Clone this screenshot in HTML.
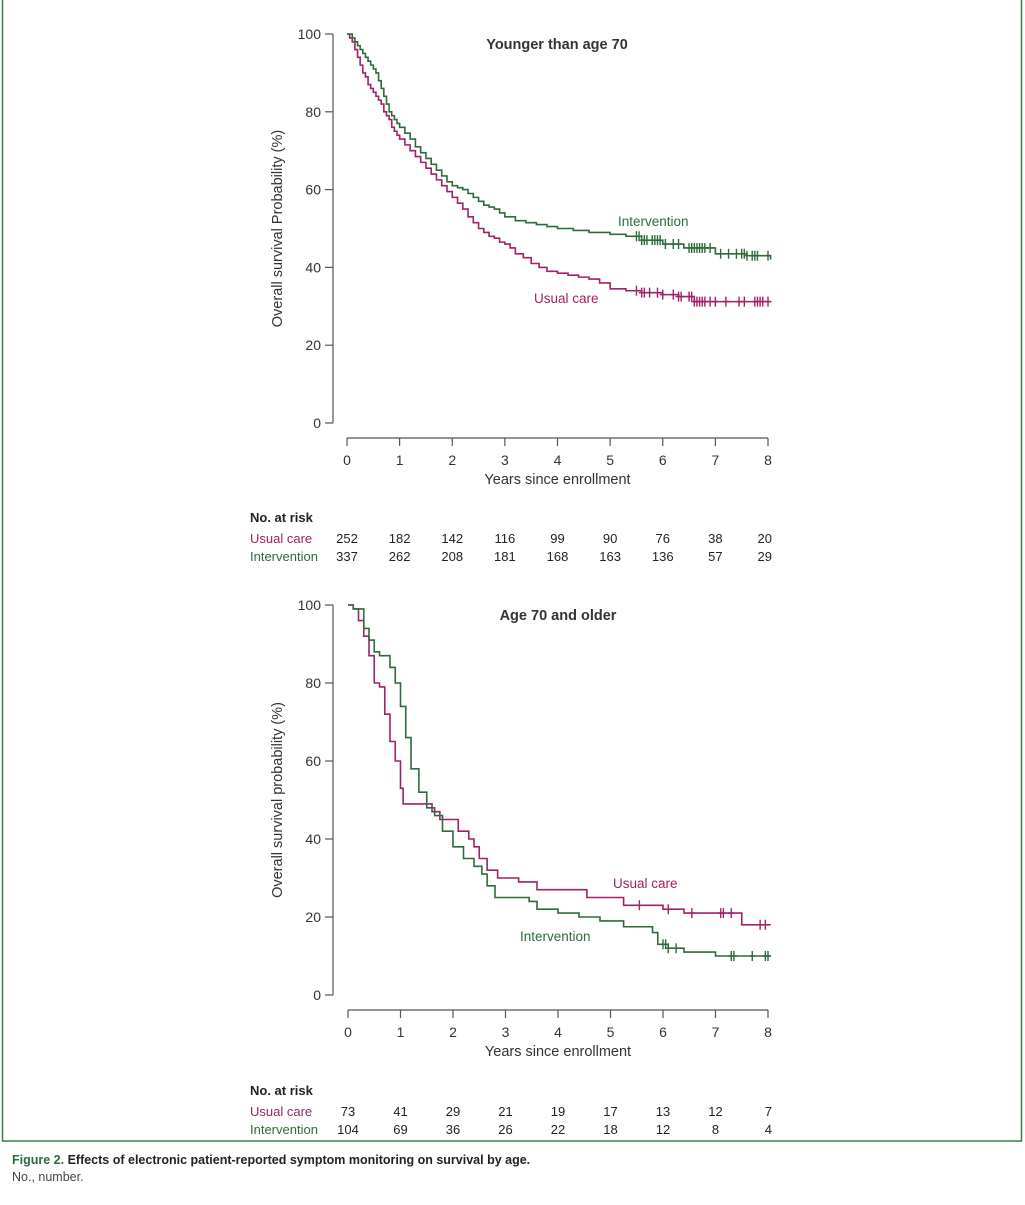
<!DOCTYPE html>
<html><head><meta charset="utf-8"><style>
body{margin:0;background:#fff;font-family:"Liberation Sans",Arial,sans-serif}
</style></head><body>
<svg id="fig" width="1025" height="1200" xmlns="http://www.w3.org/2000/svg" font-family="Liberation Sans, Arial, sans-serif">
<rect x="2.5" y="-1" width="1019" height="1142" fill="none" stroke="#3c7a4a" stroke-width="1.5"/>
<text x="12" y="1164" font-size="12.5" font-weight="bold" fill="#222"><tspan fill="#2e6b3a">Figure 2.</tspan> Effects of electronic patient-reported symptom monitoring on survival by age.</text>
<text x="12" y="1181" font-size="12.5" fill="#444">No., number.</text>
<g id="top"></g><g id="bot"></g>
</svg>
<script>
const yearTicks=[0,1,2,3,4,5,6,7,8];
const survTicks=[0,20,40,60,80,100];
// Top panel: younger than 70
const topUsualT=[0,0.05,0.1,0.15,0.2,0.25,0.3,0.35,0.4,0.45,0.5,0.55,0.6,0.65,0.7,0.75,0.8,0.85,0.9,0.95,1.0,1.1,1.2,1.3,1.4,1.5,1.6,1.7,1.8,1.9,2.0,2.1,2.2,2.3,2.4,2.5,2.6,2.7,2.8,2.9,3.0,3.1,3.2,3.35,3.5,3.65,3.8,4.0,4.2,4.4,4.6,4.8,5.0,5.3,5.6,6.0,6.3,6.6,8.05];
const topUsualS=[100,99,98,96,94,92,90,89,87,86,85,84,83,82,80,79,78,76,75,74,73,71.5,70,68.5,67,65.5,64,62.5,61,59.5,58,56.5,55,53,51.5,50,49,48,47.5,46.5,46,45,43.5,42.5,41,40,39,38.5,38,37.5,37,36,34.5,34,33.5,33,32.5,31.2,31];
const topUsualCens=[5.5,5.6,5.65,5.75,5.9,6.0,6.2,6.3,6.35,6.5,6.55,6.6,6.65,6.7,6.75,6.8,6.9,7.0,7.2,7.45,7.55,7.75,7.8,7.85,7.9,8.0];
const topIntT=[0,0.1,0.15,0.2,0.25,0.3,0.35,0.4,0.45,0.5,0.55,0.6,0.65,0.7,0.75,0.8,0.85,0.9,0.95,1.0,1.1,1.2,1.3,1.4,1.5,1.6,1.7,1.8,1.9,2.0,2.1,2.2,2.3,2.4,2.5,2.6,2.7,2.8,2.9,3.0,3.2,3.4,3.6,3.8,4.0,4.3,4.6,5.0,5.3,5.6,6.0,6.4,7.0,7.6,8.05];
const topIntS=[100,99,98,97,96,95,94,93,92,91,90,88,86,84,82,80,79,78,77,76,74.5,73,71,69.5,68,66.5,65,63.5,62,61,60.5,60,59,58,57,56,55.5,55,54,53,52,51.5,51,50.5,50,49.5,49,48.5,48,47,46,45,43.5,43,42];
const topIntCens=[5.5,5.55,5.6,5.65,5.7,5.8,5.85,5.9,5.95,6.05,6.2,6.3,6.5,6.55,6.6,6.65,6.7,6.75,6.8,6.9,7.1,7.25,7.4,7.5,7.55,7.6,7.7,7.75,7.8,8.0];
// Bottom panel: 70 and older
const botUsualT=[0,0.1,0.2,0.3,0.4,0.5,0.6,0.7,0.8,0.9,1.0,1.05,1.5,1.6,1.75,2.0,2.1,2.3,2.4,2.5,2.65,2.85,3.25,3.6,4.55,5.25,6.0,6.4,7.5,8.05];
const botUsualS=[100,99,96,92,87,80,79,72,65,60,53,49,49,47,45,45,42,40,38,35,32,30,29,27,25,23,22,21,18,18];
const botUsualCens=[5.55,6.1,6.55,7.1,7.15,7.3,7.85,7.95];
const botIntT=[0,0.1,0.3,0.4,0.5,0.6,0.8,0.9,1.0,1.1,1.2,1.35,1.5,1.65,1.8,2.0,2.2,2.4,2.55,2.65,2.8,3.45,3.6,4.0,4.4,4.8,5.25,5.8,5.9,6.1,6.4,7.0,8.05];
const botIntS=[100,99,94,91,88,87,84,80,74,66,58,52,48,46,42,38,35,33,31,28,25,24,22,21,20,19,17.5,16,13,12,11,10,10];
const botIntCens=[6.0,6.05,6.1,6.25,7.3,7.35,7.7,7.95,8.0];

const NS="http://www.w3.org/2000/svg";
function mk(parent,tag,attrs,text){const e=document.createElementNS(NS,tag);for(const k in attrs)e.setAttribute(k,attrs[k]);if(text!==undefined)e.textContent=text;parent.appendChild(e);return e;}

function panel(g,o){
  const X=t=>o.x0+t*(o.x8-o.x0)/8, Y=s=>o.y0+(o.y100-o.y0)*s/100;
  const ya=mk(g,'line',{x1:o.yax,x2:o.yax,y1:Y(100),y2:Y(0),stroke:'#555','stroke-width':1.2});
  
  
  survTicks.forEach(v=>{
    mk(g,'line',{x1:o.yax-8,x2:o.yax,y1:Y(v),y2:Y(v),stroke:'#555','stroke-width':1.2});
    const t=mk(g,'text',{x:o.yax-12,y:Y(v)+5,'text-anchor':'end','font-size':14,fill:'#333'},v);
    
    
  });
  const xa=mk(g,'line',{x1:X(0),x2:X(8),y1:o.xay,y2:o.xay,stroke:'#555','stroke-width':1.2});
  
  
  yearTicks.forEach(v=>{
    mk(g,'line',{x1:X(v),x2:X(v),y1:o.xay,y2:o.xay+8,stroke:'#555','stroke-width':1.2});
    const t=mk(g,'text',{x:X(v),y:o.xay+27,'text-anchor':'middle','font-size':14,fill:'#333'},v);
    
    
  });
  const xt=mk(g,'text',{x:(X(0)+X(8))/2,y:o.xay+46,'text-anchor':'middle','font-size':14.5,fill:'#333'},'Years since enrollment');
  
  
  const cy=(Y(0)+Y(100))/2;
  const yt=mk(g,'text',{x:282,y:cy,'text-anchor':'middle','font-size':14.5,fill:'#333',transform:`rotate(-90 282 ${cy})`},o.ytitle);
  
  
  const ti=mk(g,'text',{x:o.titleX,y:Y(100)+15,'text-anchor':'middle','font-size':14.5,'font-weight':'bold',fill:'#333'},o.title);
  
  
  o.series.forEach(s=>{
    let d=`M${X(s.T[0])},${Y(s.S[0])}`;
    for(let i=1;i<s.T.length;i++){d+=`H${X(s.T[i])}V${Y(s.S[i])}`;}
    const p=mk(g,'path',{d:d,fill:'none',stroke:s.c,'stroke-width':1.6});
    
    
    s.cens.forEach(t=>{
      let v=s.S[0];for(let i=0;i<s.T.length;i++){if(s.T[i]<=t)v=s.S[i];}
      const c=mk(g,'path',{d:`M${X(t)},${Y(v)-5}v10M${X(t)-3},${Y(v)}h6`,stroke:s.c,'stroke-width':1.4});
      
      
    });
    const l=mk(g,'text',{x:s.lx,y:s.ly,'font-size':13.5,fill:s.c},s.label);
    
    
  });
  const h=mk(g,'text',{x:250,y:o.ry,'font-size':13,'font-weight':'bold',fill:'#222'},'No. at risk');
  
  
  o.risk.forEach((r,j)=>{
    const yy=o.ry+21+j*18;
    const lab=mk(g,'text',{x:250,y:yy,'font-size':13,fill:r.c},r.label);
    
    
    r.v.forEach((n,i)=>{
      const t=mk(g,'text',{x:X(i)+(i==8?4:0),y:yy,'text-anchor':i==8?'end':'middle','font-size':13,fill:'#222'},n);
      
      
    });
  });
}
const G='#2e6b3a',M='#a0206a';
const topRiskUsual=[252,182,142,116,99,90,76,38,20], topRiskInt=[337,262,208,181,168,163,136,57,29];
const botRiskUsual=[73,41,29,21,19,17,13,12,7], botRiskInt=[104,69,36,26,22,18,12,8,4];
panel(document.getElementById('top'),{x0:347,x8:768,y0:423,y100:34,yax:333,xay:438,titleX:557,title:'Younger than age 70',ytitle:'Overall survival Probability (%)',ry:522,
 series:[{name:'usual-care',T:topUsualT,S:topUsualS,cens:topUsualCens,c:M,label:'Usual care',lx:534,ly:303},
         {name:'intervention',T:topIntT,S:topIntS,cens:topIntCens,c:G,label:'Intervention',lx:618,ly:226}],
 risk:[{label:'Usual care',c:M,v:topRiskUsual},{label:'Intervention',c:G,v:topRiskInt}]});
panel(document.getElementById('bot'),{x0:348,x8:768,y0:995,y100:605,yax:333,xay:1010,titleX:558,title:'Age 70 and older',ytitle:'Overall survival probability (%)',ry:1095,
 series:[{name:'usual-care',T:botUsualT,S:botUsualS,cens:botUsualCens,c:M,label:'Usual care',lx:613,ly:888},
         {name:'intervention',T:botIntT,S:botIntS,cens:botIntCens,c:G,label:'Intervention',lx:520,ly:941}],
 risk:[{label:'Usual care',c:M,v:botRiskUsual},{label:'Intervention',c:G,v:botRiskInt}]});
</script>
</body></html>
